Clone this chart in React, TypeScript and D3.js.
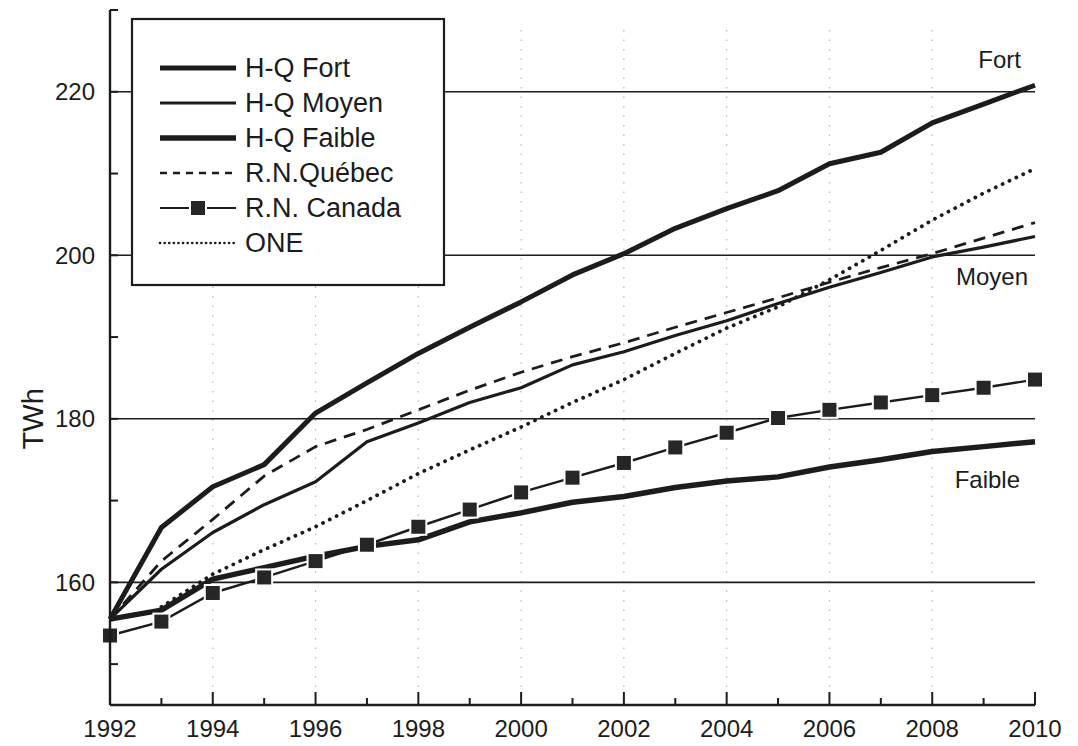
import * as d3 from "d3";

const years = d3.range(1992, 2011);

const hqFort = [155.5, 166.7, 171.7, 174.4, 180.7, 184.4, 188.0, 191.2, 194.3, 197.6, 200.2, 203.3, 205.7, 207.9, 211.2, 212.6, 216.2, 218.5, 220.8];
const hqMoyen = [155.5, 161.6, 166.1, 169.5, 172.3, 177.2, 179.5, 182.0, 183.8, 186.6, 188.2, 190.2, 192.0, 194.1, 196.1, 197.9, 199.8, 201.0, 202.3];
const hqFaible = [155.5, 156.6, 160.4, 161.8, 163.2, 164.4, 165.2, 167.4, 168.5, 169.8, 170.5, 171.6, 172.4, 172.9, 174.1, 175.0, 176.0, 176.6, 177.2];
const rnQuebec = [155.5, 162.6, 167.7, 173.0, 176.6, 178.7, 181.1, 183.5, 185.7, 187.6, 189.3, 191.2, 193.0, 194.8, 196.7, 198.5, 200.2, 202.1, 204.0];
const rnCanada = [153.5, 155.2, 158.7, 160.6, 162.6, 164.6, 166.8, 168.9, 171.0, 172.8, 174.6, 176.5, 178.3, 180.1, 181.1, 182.0, 182.9, 183.8, 184.8];
// ONE commence en 1993
const one = [null, 157.0, 161.0, 164.0, 166.8, 170.0, 173.3, 176.2, 179.0, 182.0, 184.8, 188.0, 191.1, 193.7, 197.0, 200.6, 204.3, 207.6, 210.6];

const yTicks = [160, 180, 200, 220];
const yMinor = [150, 170, 190, 210];
const xLabels = d3.range(1992, 2011, 2);

const legendItems = [
  { label: "H-Q Fort", width: 5, dash: null, marker: false },
  { label: "H-Q Moyen", width: 3.2, dash: null, marker: false },
  { label: "H-Q Faible", width: 5.5, dash: null, marker: false },
  { label: "R.N.Québec", width: 2.4, dash: "7,6", marker: false },
  { label: "R.N. Canada", width: 2.2, dash: null, marker: true },
  { label: "ONE", width: 2.6, dash: "0.1,4.5", marker: false },
];

const ink = "#1c1c1c";
const font = "'Liberation Sans', Arial, sans-serif";

export default function App() {
  const width = 1078;
  const height = 746;
  const left = 110;
  const right = 1035;
  const top = 10;
  const bottom = 705;

  const x = d3.scaleLinear().domain([1992, 2010]).range([left, right]);
  const y = d3.scaleLinear().domain([145, 230]).range([bottom, top]);

  const line = d3
    .line<number | null>()
    .defined((d) => d != null)
    .x((_, i) => x(years[i]))
    .y((d) => y(d as number));

  const series = [
    { values: hqFort, width: 5, dash: null },
    { values: hqMoyen, width: 3.2, dash: null },
    { values: hqFaible, width: 5.5, dash: null },
    { values: rnQuebec, width: 2.8, dash: "12,8" },
    { values: one, width: 3.8, dash: "0.1,7.5", cap: "round" },
  ];

  return (
    <svg width={width} height={height} style={{ position: "absolute", left: 0, top: 0, background: "#fff" }} fontFamily={font}>
      {/* grilles verticales pointillées */}
      {xLabels.slice(1, -1).map((yr) => (
        <line key={"v" + yr} x1={x(yr)} x2={x(yr)} y1={top + 20} y2={bottom - 10} stroke="#b5b5b5" strokeWidth={1.2} strokeDasharray="1.5,8" />
      ))}
      {/* grilles horizontales */}
      {yTicks.map((t) => (
        <line key={"h" + t} x1={left} x2={right} y1={y(t)} y2={y(t)} stroke={ink} strokeWidth={1.6} />
      ))}

      {/* séries */}
      {series.map((s, i) => (
        <path
          key={i}
          d={line(s.values) || ""}
          fill="none"
          stroke={ink}
          strokeWidth={s.width}
          strokeDasharray={s.dash || undefined}
          strokeLinecap={(s as any).cap || "butt"}
          strokeLinejoin="round"
        />
      ))}
      <path d={line(rnCanada) || ""} fill="none" stroke={ink} strokeWidth={2.4} />
      {rnCanada.map((v, i) => (
        <rect key={"m" + i} x={x(years[i]) - 8} y={y(v) - 8} width={16} height={16} fill="#262626" stroke="#fff" strokeWidth={2} />
      ))}

      {/* axes */}
      <line x1={left} x2={left} y1={top} y2={bottom} stroke={ink} strokeWidth={2.4} />
      <line x1={left} x2={left + 8} y1={top} y2={top} stroke={ink} strokeWidth={2} />
      <line x1={left} x2={right} y1={bottom} y2={bottom} stroke={ink} strokeWidth={2.4} />
      {yTicks.concat(yMinor).map((t) => (
        <line key={"yt" + t} x1={left} x2={left + 8} y1={y(t)} y2={y(t)} stroke={ink} strokeWidth={2} />
      ))}
      {years.map((yr) => (
        <line key={"xt" + yr} x1={x(yr)} x2={x(yr)} y1={bottom} y2={bottom - (yr % 2 === 0 ? 13 : 7)} stroke={ink} strokeWidth={2} />
      ))}
      {yTicks.map((t) => (
        <text key={"yl" + t} x={95} y={y(t)} dy="0.35em" textAnchor="end" fontSize={24} fill={ink}>
          {t}
        </text>
      ))}
      {xLabels.map((yr) => (
        <text key={"xl" + yr} x={x(yr)} y={729} dy="0.35em" textAnchor="middle" fontSize={24} fill={ink}>
          {yr}
        </text>
      ))}
      <text transform={`translate(33,${y(180)}) rotate(-90)`} textAnchor="middle" dy="0.35em" fontSize={29} fill={ink}>
        TWh
      </text>

      {/* étiquettes des scénarios */}
      <text x={1021} y={60} dy="0.35em" textAnchor="end" fontSize={24} fill={ink}>Fort</text>
      <text x={1028} y={277} dy="0.35em" textAnchor="end" fontSize={24} fill={ink}>Moyen</text>
      <text x={1020} y={480} dy="0.35em" textAnchor="end" fontSize={24} fill={ink}>Faible</text>

      {/* légende */}
      <rect x={132} y={19} width={312} height={266} fill="#fff" stroke={ink} strokeWidth={2.2} />
      {legendItems.map((it, i) => {
        const cy = 68 + i * 35;
        return (
          <g key={it.label}>
            <line
              x1={160}
              x2={236}
              y1={cy}
              y2={cy}
              stroke={ink}
              strokeWidth={it.width}
              strokeDasharray={it.dash || undefined}
              strokeLinecap={it.label === "ONE" ? "round" : "butt"}
            />
            {it.marker && <rect x={190} y={cy - 8} width={16} height={16} fill="#262626" stroke="#fff" strokeWidth={2} />}
            <text x={245} y={cy} dy="0.35em" fontSize={27} fill={ink}>
              {it.label}
            </text>
          </g>
        );
      })}
    </svg>
  );
}
